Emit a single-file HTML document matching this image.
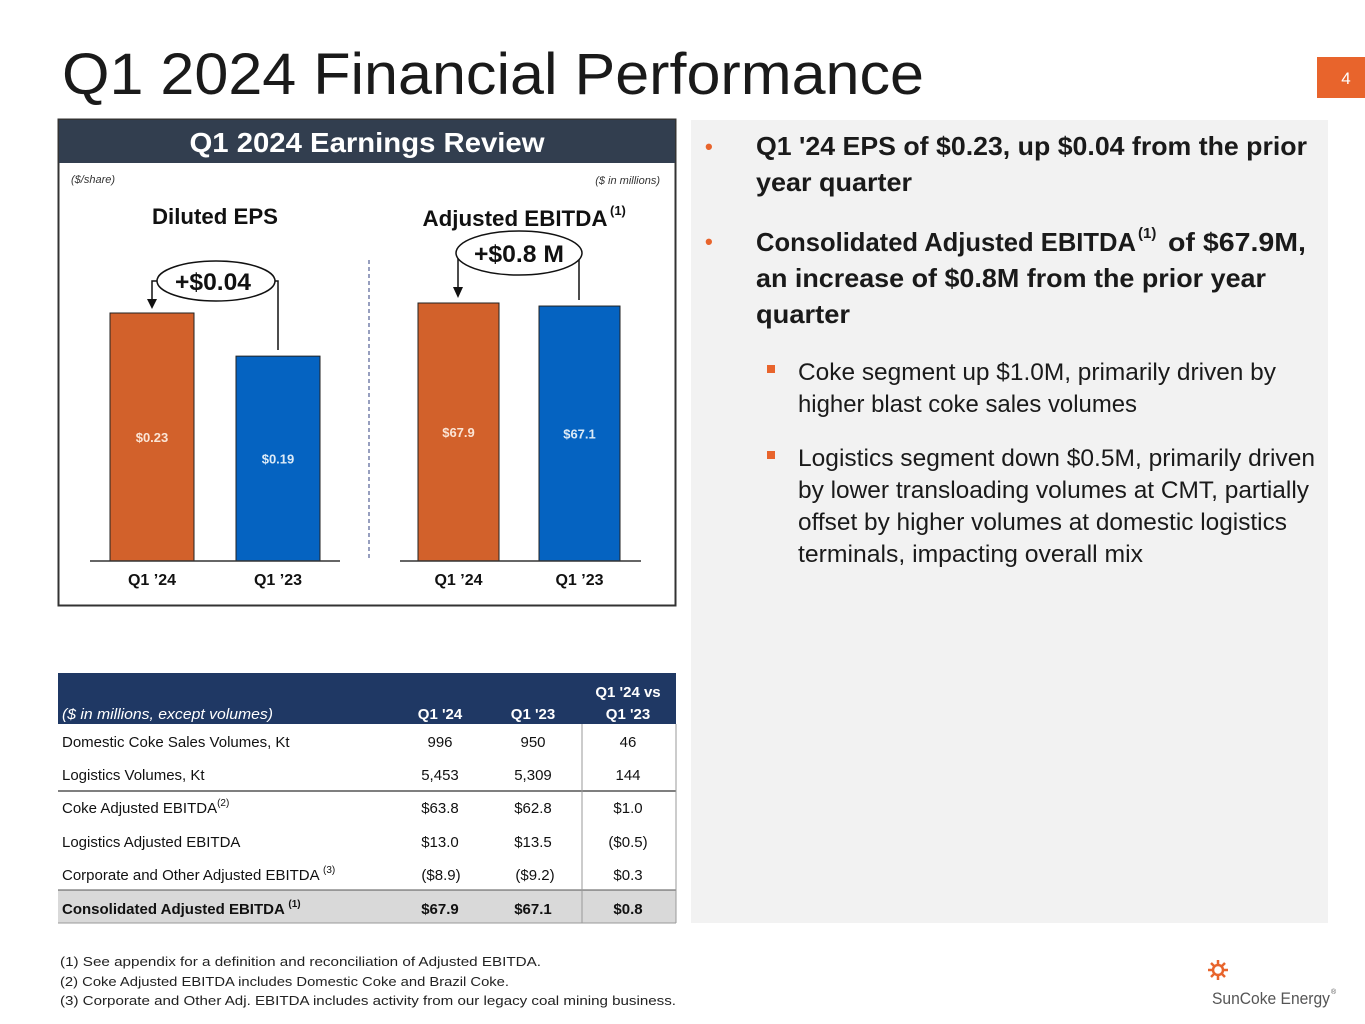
<!DOCTYPE html>
<html><head><meta charset="utf-8"><style>
html,body{margin:0;padding:0;background:#fff}
svg{display:block;font-family:"Liberation Sans",sans-serif}
</style></head><body>
<svg id="s" width="1365" height="1024" viewBox="0 0 1365 1024" xmlns="http://www.w3.org/2000/svg">
<text x="62" y="94" font-size="58" fill="#1a1a1a" textLength="862" lengthAdjust="spacingAndGlyphs">Q1 2024 Financial Performance</text>
<rect x="1317" y="57" width="48" height="41" fill="#E8642C"/>
<text x="1346" y="84" font-size="17" fill="#fff" text-anchor="middle">4</text>

<g>
<rect x="58.5" y="119.5" width="617" height="486" fill="#fff" stroke="#333" stroke-width="2"/>
<rect x="59" y="120" width="616" height="43" fill="#323E4F"/>
<text x="367" y="152" font-size="28" font-weight="bold" fill="#fff" text-anchor="middle" textLength="355" lengthAdjust="spacingAndGlyphs">Q1 2024 Earnings Review</text>
<text x="71" y="183" font-size="11" font-style="italic" fill="#333">($/share)</text>
<text x="660" y="184" font-size="11" font-style="italic" fill="#333" text-anchor="end">($ in millions)</text>
<text x="215" y="224" font-size="22" font-weight="bold" fill="#111" text-anchor="middle" textLength="126" lengthAdjust="spacingAndGlyphs">Diluted EPS</text>
<text x="515" y="226" font-size="22" font-weight="bold" fill="#111" text-anchor="middle" textLength="185" lengthAdjust="spacingAndGlyphs">Adjusted EBITDA</text>
<text x="610" y="215" font-size="13" font-weight="bold" fill="#111">(1)</text>
<line x1="369" y1="260" x2="369" y2="561" stroke="#2F3F7F" stroke-width="1" stroke-dasharray="4,3"/>
<g id="bars"></g>
<g>
<polyline points="160,281 152,281 152,300" fill="none" stroke="#111" stroke-width="1.5"/>
<polygon points="147,299 157,299 152,309" fill="#111"/>
<polyline points="272,281 278,281 278,350" fill="none" stroke="#111" stroke-width="1.5"/>
<ellipse cx="216" cy="281" rx="59" ry="20" fill="#fff" stroke="#111" stroke-width="1.5"/>
<text x="213" y="290" font-size="24" font-weight="bold" fill="#111" text-anchor="middle" textLength="76" lengthAdjust="spacingAndGlyphs">+$0.04</text>
</g>
<g>
<polyline points="458,253 458,288" fill="none" stroke="#111" stroke-width="1.5"/>
<polygon points="453,287 463,287 458,298" fill="#111"/>
<polyline points="579,253 579,300" fill="none" stroke="#111" stroke-width="1.5"/>
<ellipse cx="519" cy="253" rx="63" ry="22" fill="#fff" stroke="#111" stroke-width="1.5"/>
<text x="519" y="262" font-size="24" font-weight="bold" fill="#111" text-anchor="middle" textLength="90" lengthAdjust="spacingAndGlyphs">+$0.8 M</text>
</g>
</g>

<g>
<rect x="58" y="673" width="618" height="51" fill="#1F3864"/>
<text x="62" y="719" font-size="15" font-style="italic" fill="#fff" textLength="211" lengthAdjust="spacingAndGlyphs">($ in millions, except volumes)</text>
<text x="440" y="719" font-size="15" font-weight="bold" fill="#fff" text-anchor="middle">Q1 '24</text>
<text x="533" y="719" font-size="15" font-weight="bold" fill="#fff" text-anchor="middle">Q1 '23</text>
<text x="628" y="697" font-size="15" font-weight="bold" fill="#fff" text-anchor="middle">Q1 '24 vs</text>
<text x="628" y="719" font-size="15" font-weight="bold" fill="#fff" text-anchor="middle">Q1 '23</text>
<rect x="58" y="890" width="618" height="33" fill="#D9D9D9"/>
<line x1="58" y1="791" x2="676" y2="791" stroke="#333" stroke-width="1.2"/>
<line x1="58" y1="890" x2="676" y2="890" stroke="#555" stroke-width="1"/>
<line x1="58" y1="923" x2="676" y2="923" stroke="#999" stroke-width="1"/>
<line x1="582" y1="724" x2="582" y2="923" stroke="#999" stroke-width="1"/>
<line x1="676" y1="724" x2="676" y2="923" stroke="#999" stroke-width="1"/>
<g font-size="15" fill="#111">
<text x="62" y="747">Domestic Coke Sales Volumes, Kt</text>
<text x="440" y="747" text-anchor="middle">996</text><text x="533" y="747" text-anchor="middle">950</text><text x="628" y="747" text-anchor="middle">46</text>
<text x="62" y="780">Logistics Volumes, Kt</text>
<text x="440" y="780" text-anchor="middle">5,453</text><text x="533" y="780" text-anchor="middle">5,309</text><text x="628" y="780" text-anchor="middle">144</text>
<text x="62" y="813">Coke Adjusted EBITDA<tspan font-size="10" dy="-7">(2)</tspan></text>
<text x="440" y="813" text-anchor="middle">$63.8</text><text x="533" y="813" text-anchor="middle">$62.8</text><text x="628" y="813" text-anchor="middle">$1.0</text>
<text x="62" y="847">Logistics Adjusted EBITDA</text>
<text x="440" y="847" text-anchor="middle">$13.0</text><text x="533" y="847" text-anchor="middle">$13.5</text><text x="628" y="847" text-anchor="middle">($0.5)</text>
<text x="62" y="880">Corporate and Other Adjusted EBITDA <tspan font-size="10" dy="-7">(3)</tspan></text>
<text x="441" y="880" text-anchor="middle">($8.9)</text><text x="535" y="880" text-anchor="middle">($9.2)</text><text x="628" y="880" text-anchor="middle">$0.3</text>
<text x="62" y="914" font-weight="bold">Consolidated Adjusted EBITDA <tspan font-size="10" dy="-7">(1)</tspan></text>
<text x="440" y="914" text-anchor="middle" font-weight="bold">$67.9</text><text x="533" y="914" text-anchor="middle" font-weight="bold">$67.1</text><text x="628" y="914" text-anchor="middle" font-weight="bold">$0.8</text>
</g>
</g>

<g font-size="13" fill="#222">
<text x="60" y="966" textLength="481" lengthAdjust="spacingAndGlyphs">(1)  See appendix for a definition and reconciliation of Adjusted EBITDA.</text>
<text x="60" y="986" textLength="449" lengthAdjust="spacingAndGlyphs">(2)  Coke Adjusted EBITDA includes Domestic Coke and Brazil Coke.</text>
<text x="60" y="1005" textLength="616" lengthAdjust="spacingAndGlyphs">(3)  Corporate and Other Adj. EBITDA includes activity from our legacy coal mining business.</text>
</g>

<g>
<rect x="691" y="120" width="637" height="803" fill="#F2F2F2"/>
<g font-size="26" font-weight="bold" fill="#1a1a1a">
<text x="705" y="154" fill="#E8642C" font-size="22">•</text>
<text x="756" y="155" textLength="551" lengthAdjust="spacingAndGlyphs">Q1 '24 EPS of $0.23, up $0.04 from the prior</text>
<text x="756" y="191" textLength="156" lengthAdjust="spacingAndGlyphs">year quarter</text>
<text x="705" y="249" fill="#E8642C" font-size="22">•</text>
<text x="756" y="251" textLength="380" lengthAdjust="spacingAndGlyphs">Consolidated Adjusted EBITDA</text>
<text x="1138" y="238" font-size="15">(1)</text>
<text x="1168" y="251" textLength="138" lengthAdjust="spacingAndGlyphs">of $67.9M,</text>
<text x="756" y="287" textLength="510" lengthAdjust="spacingAndGlyphs">an increase of $0.8M from the prior year</text>
<text x="756" y="323" textLength="94" lengthAdjust="spacingAndGlyphs">quarter</text>
</g>
<g font-size="24" fill="#1a1a1a">
<rect x="767" y="365" width="8" height="8" fill="#E8642C"/>
<text x="798" y="380" textLength="478" lengthAdjust="spacingAndGlyphs">Coke segment up $1.0M, primarily driven by</text>
<text x="798" y="412" textLength="339" lengthAdjust="spacingAndGlyphs">higher blast coke sales volumes</text>
<rect x="767" y="451" width="8" height="8" fill="#E8642C"/>
<text x="798" y="466" textLength="517" lengthAdjust="spacingAndGlyphs">Logistics segment down $0.5M, primarily driven</text>
<text x="798" y="498" textLength="511" lengthAdjust="spacingAndGlyphs">by lower transloading volumes at CMT, partially</text>
<text x="798" y="530" textLength="489" lengthAdjust="spacingAndGlyphs">offset by higher volumes at domestic logistics</text>
<text x="798" y="562" textLength="345" lengthAdjust="spacingAndGlyphs">terminals, impacting overall mix</text>
</g>
</g>

<g>
<g stroke="#E8642C" stroke-width="2.5" transform="translate(1218,970)">
<line x1="0" y1="-10" x2="0" y2="10"/><line x1="-10" y1="0" x2="10" y2="0"/>
<line x1="-7" y1="-7" x2="7" y2="7"/><line x1="-7" y1="7" x2="7" y2="-7"/>
<circle r="5" fill="#fff"/>
</g>
<text x="1212" y="1004" font-size="17" fill="#555" textLength="118" lengthAdjust="spacingAndGlyphs">SunCoke Energy</text>
<text x="1331" y="994" font-size="7" fill="#555">®</text>
</g>
</svg>
<script>
const categories = ["Q1 \u201924", "Q1 \u201923"];
const epsValues = [0.23, 0.19];
const ebitdaValues = [67.9, 67.1];
const epsLabels = ["$0.23", "$0.19"];
const ebitdaLabels = ["$67.9", "$67.1"];
const barColors = ["#D2612B", "#0563C1"];
const NS = "http://www.w3.org/2000/svg";
const g = document.getElementById("bars");
const baseY = 561;
function epsY(v){ return baseY - v * (248 / 0.23); }
function ebitdaY(v){ return baseY - v * (258 / 67.9); }
function mk(tag, attrs){ const e = document.createElementNS(NS, tag); for (const k in attrs) e.setAttribute(k, attrs[k]); return e; }
function drawChart(prefix, values, labels, yFn, xs, w, axisX1, axisX2){
  const axis = mk("line", {x1: axisX1, x2: axisX2, y1: baseY, y2: baseY, stroke: "#333", "stroke-width": 1.5});
  
  
  values.forEach((v, i) => {
    const top = yFn(v);
    const r = mk("rect", {x: xs[i], y: top, width: w, height: baseY - top, fill: barColors[i], stroke: "#222", "stroke-width": 1});
    
    
    g.appendChild(r);
    const t = mk("text", {x: xs[i] + w / 2, y: (top + baseY) / 2 + 5, "font-size": 13, "font-weight": "bold", fill: i === 0 ? "#FBE5D6" : "#DDEBF7", "text-anchor": "middle"});
    t.textContent = labels[i];
    
    
    g.appendChild(t);
    const c = mk("text", {x: xs[i] + w / 2, y: 585, "font-size": 16, "font-weight": "bold", fill: "#111", "text-anchor": "middle"});
    c.textContent = categories[i];
    
    
    g.appendChild(c);
  });
  g.appendChild(axis);
}
drawChart("eps", epsValues, epsLabels, epsY, [110, 236], 84, 90, 340);
drawChart("ebitda", ebitdaValues, ebitdaLabels, ebitdaY, [418, 539], 81, 400, 641);
</script>
</body></html>
